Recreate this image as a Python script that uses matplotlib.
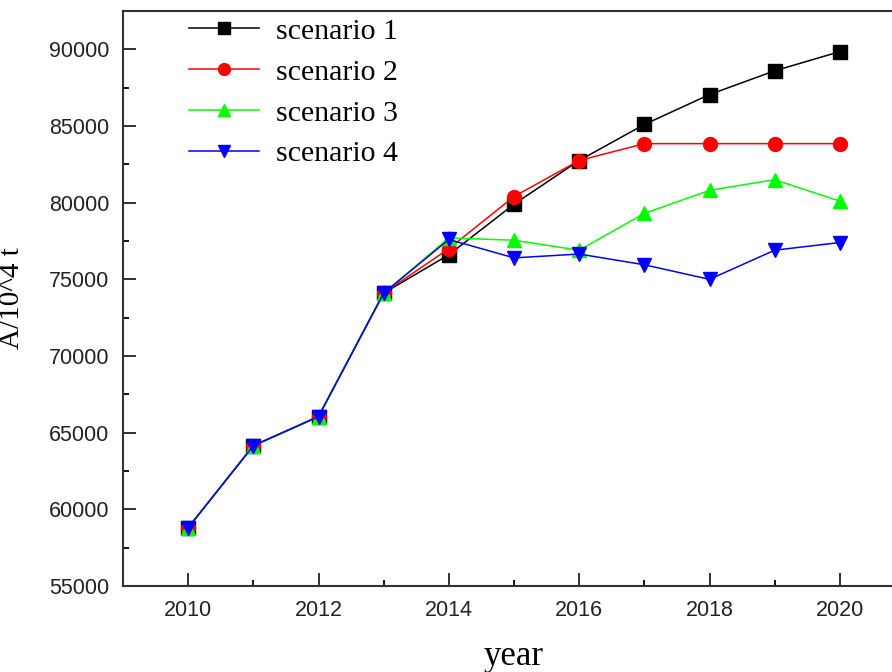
import matplotlib
matplotlib.use("Agg")
import matplotlib.pyplot as plt
from matplotlib.ticker import MultipleLocator

years = [2010, 2011, 2012, 2013, 2014, 2015, 2016, 2017, 2018, 2019, 2020]

scenario1 = [58800, 64150, 66050, 74100, 76600, 79900, 82750, 85100, 87050, 88600, 89850]
scenario2 = [58800, 64150, 66050, 74100, 77000, 80400, 82750, 83850, 83850, 83850, 83850]
scenario3 = [58800, 64150, 66050, 74100, 77700, 77550, 76900, 79300, 80800, 81500, 80100]
scenario4 = [58800, 64150, 66050, 74100, 77600, 76400, 76650, 75950, 75000, 76900, 77400]

labels = ["scenario 1", "scenario 2", "scenario 3", "scenario 4"]
series = [scenario1, scenario2, scenario3, scenario4]
line_colors = ["black", "#ff0000", "#00ff00", "#0000ff"]
marker_styles = ["s", "o", "^", "v"]

W, H = 892, 672
fig = plt.figure(figsize=(W / 100, H / 100), dpi=100)
ax = fig.add_axes([123 / W, (H - 586) / H, (905 - 123) / W, (586 - 11) / H])

for vals, lab, col, mk in zip(series, labels, line_colors, marker_styles):
    ax.plot(years, vals, color=col, marker=mk, markersize=10, linewidth=1.1,
            markeredgecolor=col, label=lab)

ax.set_xlim(2009, 2021)
ax.set_ylim(55000, 92500)
ax.xaxis.set_major_locator(MultipleLocator(2))
ax.xaxis.set_minor_locator(MultipleLocator(1))
ax.yaxis.set_major_locator(MultipleLocator(5000))
ax.yaxis.set_minor_locator(MultipleLocator(2500))

ax.tick_params(axis="both", which="major", direction="in", length=9.5, width=1.3,
               labelsize=15.5, pad=10, colors="#222222")
ax.tick_params(axis="both", which="minor", direction="in", length=4.5, width=1.3)
for lbl in ax.get_xticklabels() + ax.get_yticklabels():
    lbl.set_family("Liberation Sans")

for side in ["left", "bottom", "top", "right"]:
    ax.spines[side].set_linewidth(1.5)
    ax.spines[side].set_color("#333333")

ax.set_xlabel("year", family="Liberation Serif", fontsize=25, labelpad=14)
ax.set_ylabel("A/10^4 t", family="Liberation Serif", fontsize=21)
ax.yaxis.set_label_coords(-0.125, 0.5)

leg = ax.legend(loc="upper left", bbox_to_anchor=(0.05, 1.035), frameon=False,
                prop={"family": "Liberation Serif", "size": 21.5},
                handlelength=2.35, handletextpad=0.55, labelspacing=0.47,
                markerscale=0.85)

fig.savefig("out.png", dpi=100)
